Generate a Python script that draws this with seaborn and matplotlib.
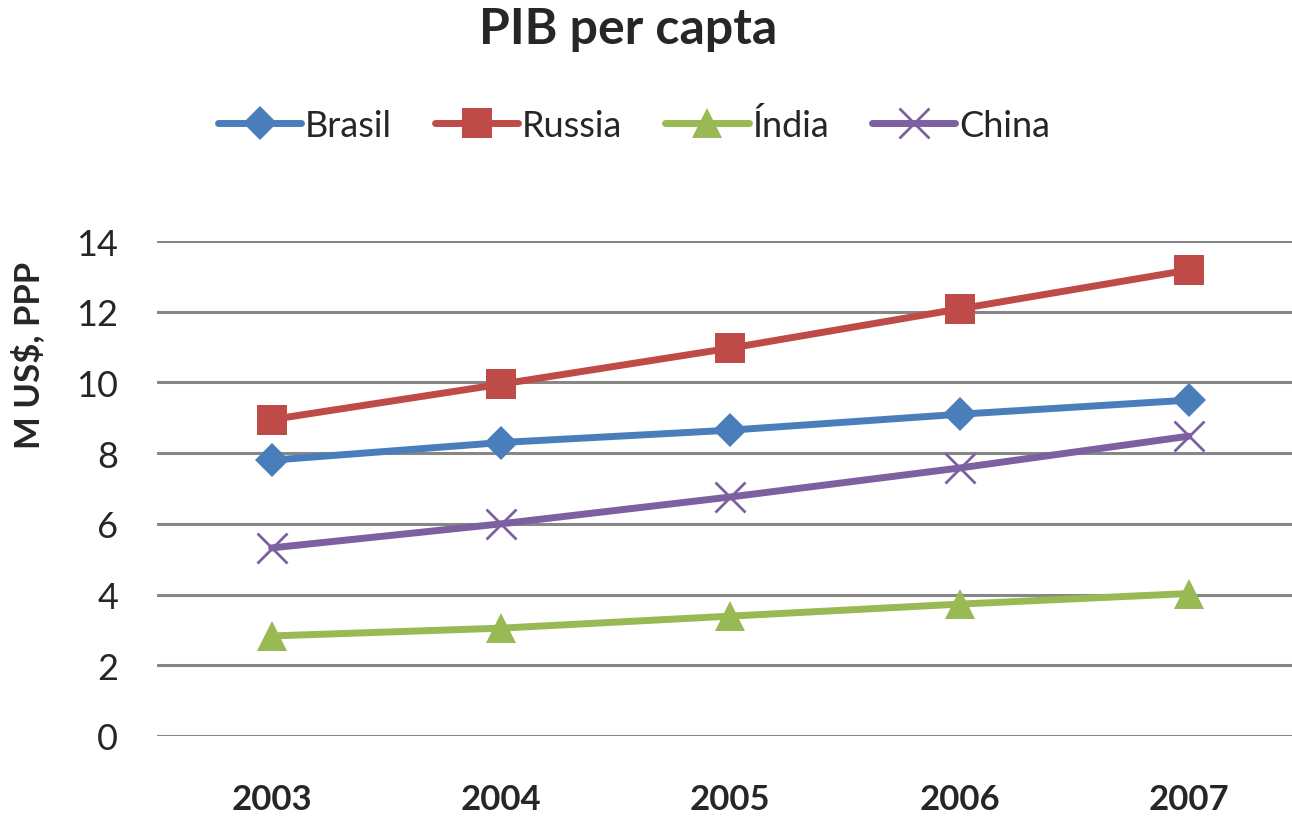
import matplotlib
matplotlib.use("Agg")
import matplotlib.pyplot as plt
import pandas as pd
import seaborn as sns

years = ["2003", "2004", "2005", "2006", "2007"]
countries = ["Brasil", "Russia", "Índia", "China"]
brasil = [7.8, 8.3, 8.65, 9.1, 9.5]
russia = [8.95, 9.95, 10.97, 12.08, 13.18]
india = [2.83, 3.05, 3.39, 3.73, 4.03]
china = [5.32, 6.0, 6.76, 7.58, 8.48]

colors = ["#4A7EBB", "#BE4B48", "#98B954", "#7D60A0"]
markers = ["D", "s", "^", "x"]
msizes = [17, 21, 21, 21]
mews = [0, 0, 0, 2]

sns.set_style("white")
plt.rcParams["font.family"] = ["Lato", "DejaVu Sans"]

df = pd.DataFrame({
    "ano": list(range(len(years))) * 4,
    "valor": brasil + russia + india + china,
    "pais": [c for c in countries for _ in years],
})

fig = plt.figure(figsize=(12.92, 8.2), dpi=100)
ax = fig.add_axes([157 / 1292, 1 - 737 / 820, 1 - 157 / 1292, (737 - 242) / 820])

# filled and line-art markers can't mix in one call, so one series at a time
for pais, c, m, ms, mew in zip(countries, colors, markers, msizes, mews):
    sns.lineplot(data=df[df.pais == pais], x="ano", y="valor", color=c,
                 marker=m, markersize=ms, markeredgewidth=mew,
                 markeredgecolor=c, linewidth=5, ax=ax, clip_on=False)

ax.set_ylim(0, 14)
ax.set_xlim(-0.5, 4.45)
ax.set_yticks(range(0, 15, 2))
ax.set_xticks(range(len(years)))
ax.set_xticklabels(years, fontweight="bold")
ax.tick_params(axis="x", labelsize=25, pad=34, length=0)
ax.tick_params(axis="y", labelsize=26, pad=28, length=0)
ax.yaxis.grid(True, color="#878787", linewidth=2.2)
ax.set_axisbelow(True)
for s in ax.spines.values():
    s.set_visible(False)
ax.set_xlabel("")
ax.set_ylabel("")

fig.text(0.022, 1 - 355 / 820, "M US$, PPP", rotation=90, ha="center",
         va="center", fontsize=25, fontweight="bold")
fig.text(628 / 1292, 1 - 30 / 820, "PIB per capta", ha="center", va="center",
         fontsize=36, fontweight="bold")

handles = []
for c, m, ms, mew in zip(colors, markers, msizes, mews):
    h, = ax.plot([], [], color=c, marker=m, linewidth=5,
                 markersize=ms, markeredgewidth=mew)
    handles.append(h)
fig.legend(handles, countries, loc="center", bbox_to_anchor=(634 / 1292, 1 - 126 / 820),
           ncol=4, frameon=False, fontsize=26, handlelength=2.3,
           handletextpad=0.1, columnspacing=1.2)

plt.savefig("out.png", dpi=100)
